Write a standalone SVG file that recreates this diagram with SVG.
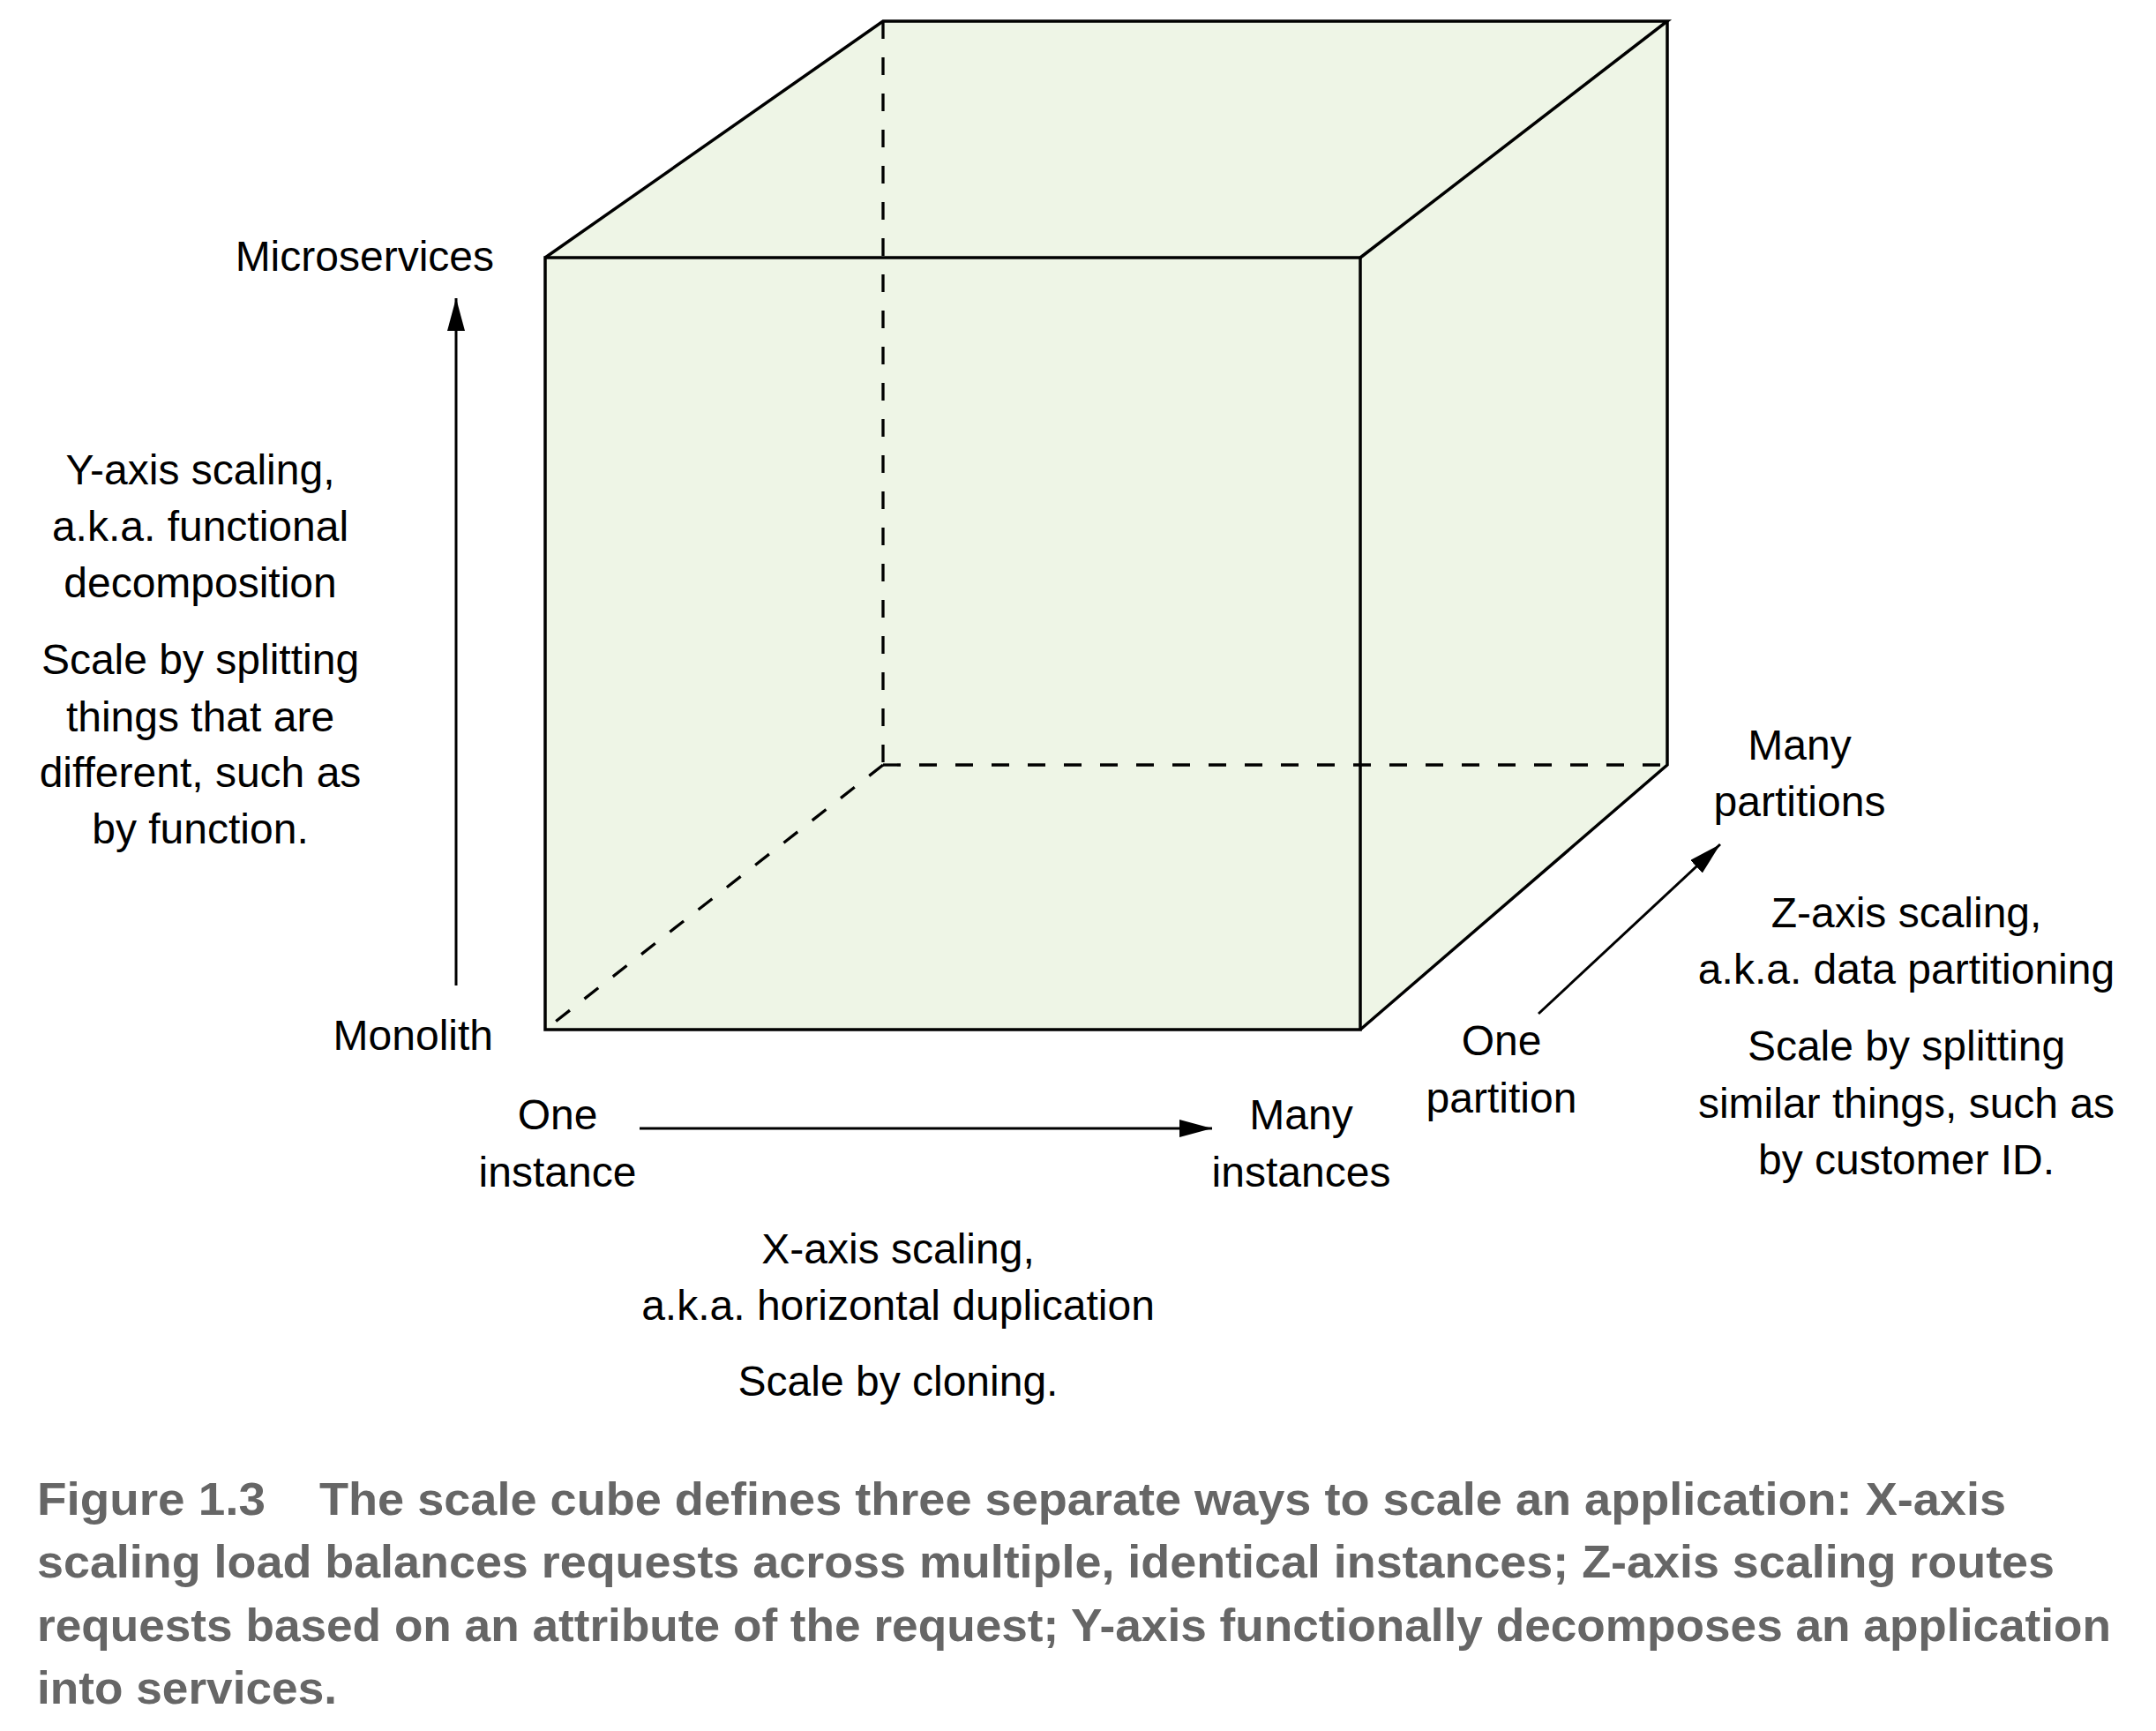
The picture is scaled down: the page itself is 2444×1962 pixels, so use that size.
<svg xmlns="http://www.w3.org/2000/svg" width="2444" height="1962" viewBox="0 0 2444 1962">
<style>
.face{fill:#EEF5E6;stroke:none}
.edge{fill:none;stroke:#000;stroke-width:3.5;stroke-linejoin:miter}
.hidden{fill:none;stroke:#000;stroke-width:3.3;stroke-dasharray:20 21}
.arrow{fill:none;stroke:#000;stroke-width:3}
.lbl{font-family:"Liberation Sans",Arial,sans-serif;font-size:48px;fill:#000}
.mid{text-anchor:middle}
.end{text-anchor:end}
.cap{font-family:"Liberation Sans",Arial,sans-serif;font-size:52px;font-weight:bold;fill:#666}
</style>
<defs>
<marker id="ah" markerUnits="userSpaceOnUse" markerWidth="40" markerHeight="24" refX="37" refY="10" orient="auto">
<path d="M0,0 L37,10 L0,20 Z" fill="#000"/>
</marker>
</defs>
<g id="cube">
<polygon class="face" points="618,292 1001,24 1890,24 1890,867 1542,1167 618,1167"/>
<line class="hidden" x1="1001" y1="24" x2="1001" y2="867"/>
<line class="hidden" x1="1001" y1="867" x2="1890" y2="867"/>
<line class="hidden" x1="1001" y1="867" x2="618" y2="1167"/>
<rect class="edge" x="618" y="292" width="924" height="875"/>
<polyline class="edge" points="618,292 1001,24 1890,24 1542,292"/>
<polyline class="edge" points="1890,24 1890,867 1542,1167"/>
</g>
<g id="connectors">
<line id="y-arrow" class="arrow" x1="517" y1="1117" x2="517" y2="338" marker-end="url(#ah)"/>
<line id="x-arrow" class="arrow" x1="725" y1="1279" x2="1374" y2="1279" marker-end="url(#ah)"/>
<line id="z-arrow" class="arrow" x1="1744" y1="1149" x2="1950" y2="957" marker-end="url(#ah)"/>
</g>
<g id="microservices"><text class="lbl end" x="560" y="307">Microservices</text></g>
<g id="monolith"><text class="lbl end" x="559" y="1190">Monolith</text></g>
<g id="y-axis-text">
<text class="lbl mid" x="227" y="549">Y-axis scaling,</text>
<text class="lbl mid" x="227" y="613">a.k.a. functional</text>
<text class="lbl mid" x="227" y="677">decomposition</text>
<text class="lbl mid" x="227" y="764">Scale by splitting</text>
<text class="lbl mid" x="227" y="829">things that are</text>
<text class="lbl mid" x="227" y="892">different, such as</text>
<text class="lbl mid" x="227" y="956">by function.</text>
</g>
<g id="one-instance">
<text class="lbl mid" x="632" y="1280">One</text>
<text class="lbl mid" x="632" y="1345">instance</text>
</g>
<g id="many-instances">
<text class="lbl mid" x="1475" y="1280">Many</text>
<text class="lbl mid" x="1475" y="1345">instances</text>
</g>
<g id="x-axis-text">
<text class="lbl mid" x="1018" y="1432">X-axis scaling,</text>
<text class="lbl mid" x="1018" y="1496">a.k.a. horizontal duplication</text>
<text class="lbl mid" x="1018" y="1582">Scale by cloning.</text>
</g>
<g id="one-partition">
<text class="lbl mid" x="1702" y="1196">One</text>
<text class="lbl mid" x="1702" y="1261">partition</text>
</g>
<g id="many-partitions">
<text class="lbl mid" x="2040" y="861">Many</text>
<text class="lbl mid" x="2040" y="925">partitions</text>
</g>
<g id="z-axis-text">
<text class="lbl mid" x="2161" y="1051">Z-axis scaling,</text>
<text class="lbl mid" x="2161" y="1115">a.k.a. data partitioning</text>
<text class="lbl mid" x="2161" y="1202">Scale by splitting</text>
<text class="lbl mid" x="2161" y="1267">similar things, such as</text>
<text class="lbl mid" x="2161" y="1331">by customer ID.</text>
</g>
<g id="caption">
<text class="cap" x="42" y="1717" textLength="259" lengthAdjust="spacingAndGlyphs">Figure 1.3</text>
<text class="cap" x="362" y="1717" textLength="1912" lengthAdjust="spacingAndGlyphs">The scale cube defines three separate ways to scale an application: X-axis</text>
<text class="cap" x="42" y="1788" textLength="2287" lengthAdjust="spacingAndGlyphs">scaling load balances requests across multiple, identical instances; Z-axis scaling routes</text>
<text class="cap" x="42" y="1860" textLength="2351" lengthAdjust="spacingAndGlyphs">requests based on an attribute of the request; Y-axis functionally decomposes an application</text>
<text class="cap" x="42" y="1931" textLength="340" lengthAdjust="spacingAndGlyphs">into services.</text>
</g>
</svg>
